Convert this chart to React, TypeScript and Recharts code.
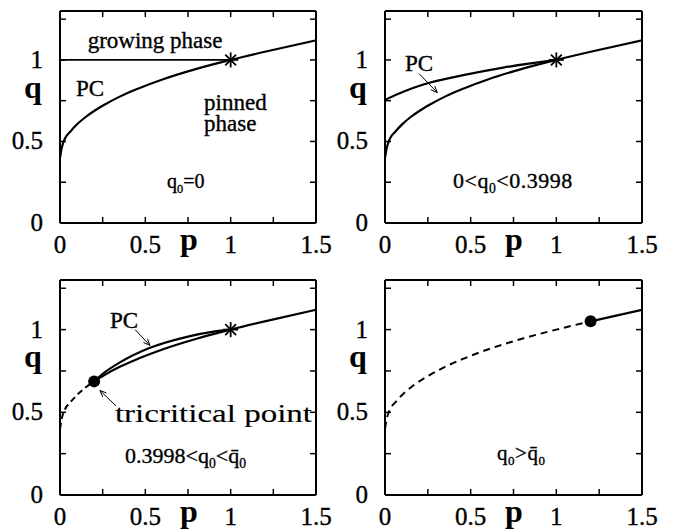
import React from 'react'
import { ComposedChart, Line, XAxis, YAxis, ReferenceDot, ReferenceLine } from 'recharts'

const FONT = 'Liberation Serif, Times New Roman, serif'

// phase boundary q(p), the same curve in all four panels
const boundaryP = [0, 0.01, 0.03, 0.06, 0.1, 0.15, 0.2, 0.26, 0.35, 0.46, 0.6, 0.8, 1.0, 1.2, 1.5]
const boundaryQ = [0.4, 0.46, 0.52, 0.56, 0.605, 0.65, 0.687, 0.725, 0.775, 0.825, 0.88, 0.945, 1.0, 1.05, 1.12]

// growing / PC border for q0 = 0
const growingP = [0, 1]
const growingQ = [1, 1]

// PC branch for 0 < q0 < 0.3998
const pcTopP = [0, 0.11, 0.22, 0.45, 0.69, 1.0]
const pcTopQ = [0.755, 0.807, 0.848, 0.905, 0.953, 1.0]

// PC branch for 0.3998 < q0 < q0bar
const pcLowP = [0.2, 0.26, 0.36, 0.52, 0.75, 0.9, 1.0]
const pcLowQ = [0.687, 0.74, 0.807, 0.887, 0.958, 0.988, 1.0]

// special points
const starPoint = { p: 1, q: 1 }
const tricriticalC = { p: 0.2, q: 0.687 }
const tricriticalD = { p: 1.2, q: 1.05 }

const pTicks = [0, 0.25, 0.5, 0.75, 1, 1.25, 1.5]
const pLabels = [0, 0.5, 1, 1.5]
const qTicks = [0, 0.25, 0.5, 0.75, 1, 1.25]
const qLabels = [0, 0.5, 1]

const toPoints = (ps: number[], qs: number[]) => ps.map((p, i) => ({ p, q: qs[i] }))

const boundary = toPoints(boundaryP, boundaryQ)
const growing = toPoints(growingP, growingQ)
const pcTop = toPoints(pcTopP, pcTopQ)
const pcLow = toPoints(pcLowP, pcLowQ)

// the scanned figure has heavy glyphs, a thin outline thickens them a bit
const ink = { fill: '#000', stroke: '#000', strokeWidth: 0.35 }

const LeftTick = (props: any) => {
  const { x, y, payload } = props
  const v = payload.value
  return (
    <g>
      <line x1={x} y1={y} x2={x + 6} y2={y} stroke="#000" strokeWidth={1.5} />
      {qLabels.includes(v) && (
        <text x={x - 17} y={y + 8} textAnchor="end" fontSize={25} fontFamily={FONT} {...ink}>
          {v}
        </text>
      )}
    </g>
  )
}

const RightTick = (props: any) => {
  const { x, y } = props
  return <line x1={x} y1={y} x2={x - 6} y2={y} stroke="#000" strokeWidth={1.5} />
}

const BottomTick = (props: any) => {
  const { x, y, payload } = props
  const v = payload.value
  return (
    <g>
      <line x1={x} y1={y} x2={x} y2={y - 6} stroke="#000" strokeWidth={1.5} />
      {pLabels.includes(v) && (
        <text x={x} y={y + 30} textAnchor="middle" fontSize={25} fontFamily={FONT} {...ink}>
          {v}
        </text>
      )}
    </g>
  )
}

const TopTick = (props: any) => {
  const { x, y } = props
  return <line x1={x} y1={y} x2={x} y2={y + 6} stroke="#000" strokeWidth={1.5} />
}

const qTitle = (props: any) => {
  const vb = props.viewBox
  return (
    <text x={vb.x + vb.width - 27} y={vb.y + 87} textAnchor="middle" fontSize={32} fontWeight="bold" fontFamily={FONT} fill="#000">
      q
    </text>
  )
}

const pTitle = (props: any) => {
  const vb = props.viewBox
  return (
    <text x={vb.x + 129} y={vb.y + 27} textAnchor="middle" fontSize={32} fontWeight="bold" fontFamily={FONT} fill="#000">
      p
    </text>
  )
}

const Star = (props: any) => {
  const { cx, cy } = props
  const r = 7.5
  const d = r * 0.72
  return (
    <g stroke="#000" strokeWidth={1.8}>
      <line x1={cx - r} y1={cy} x2={cx + r} y2={cy} />
      <line x1={cx} y1={cy - r} x2={cx} y2={cy + r} />
      <line x1={cx - d} y1={cy - d} x2={cx + d} y2={cy + d} />
      <line x1={cx - d} y1={cy + d} x2={cx + d} y2={cy - d} />
    </g>
  )
}

const Dot = (props: any) => <circle cx={props.cx} cy={props.cy} r={6} fill="#000" />

const Arrow = (props: any) => {
  const { x1, y1, x2, y2 } = props
  const a = Math.atan2(y2 - y1, x2 - x1)
  const h = 7
  const s = 0.4
  return (
    <g stroke="#000" strokeWidth={1} fill="none">
      <line x1={x1} y1={y1} x2={x2} y2={y2} />
      <line x1={x2} y1={y2} x2={x2 - h * Math.cos(a - s)} y2={y2 - h * Math.sin(a - s)} />
      <line x1={x2} y1={y2} x2={x2 - h * Math.cos(a + s)} y2={y2 - h * Math.sin(a + s)} />
    </g>
  )
}

// text pinned to a (p, q) position; stretch widens the glyphs horizontally
const note = (key: string, p: number, q: number, content: React.ReactNode, size = 23, extra: any = {}, stretch = 1) => (
  <ReferenceDot
    key={key}
    x={p}
    y={q}
    r={0}
    shape={(s: any) => (
      <text
        x={0}
        y={0}
        transform={`translate(${s.cx},${s.cy}) scale(${stretch},1)`}
        fontSize={size}
        fontFamily={FONT}
        {...ink}
        {...extra}
      >
        {content}
      </text>
    )}
  />
)

const arrow = (key: string, from: [number, number], to: [number, number]) => (
  <ReferenceLine
    key={key}
    segment={[
      { x: from[0], y: from[1] },
      { x: to[0], y: to[1] },
    ]}
    shape={Arrow}
  />
)

const curve = (key: string, data: any[], width = 2.2, dash?: string) => (
  <Line
    key={key}
    data={data}
    dataKey="q"
    type="monotone"
    stroke="#000"
    strokeWidth={width}
    strokeDasharray={dash}
    dot={false}
    activeDot={false}
    isAnimationActive={false}
  />
)

// subscript "0", then the text after it back on the baseline
const SUB = 5
const sub0 = (after?: string) => (
  <>
    <tspan fontSize="0.62em" dy={SUB}>0</tspan>
    {after && <tspan dy={-SUB}>{after}</tspan>}
  </>
)

interface PanelProps {
  left: number
  top: number
  width: number
  plotHeight: number
  children: React.ReactNode
}

const Panel: React.FC<PanelProps> = ({ left, top, width, plotHeight, children }) => (
  <div style={{ position: 'absolute', left, top }}>
    <ComposedChart width={width} height={plotHeight + 53} margin={{ top: 10, right: 23, bottom: 2, left: 10 }}>
      <XAxis
        dataKey="p"
        type="number"
        domain={[0, 1.5]}
        ticks={pTicks}
        interval={0}
        allowDataOverflow
        tickSize={0}
        tickMargin={0}
        tickLine={false}
        tick={BottomTick}
        height={40}
        axisLine={{ stroke: '#000', strokeWidth: 2 }}
        label={pTitle}
      />
      <XAxis
        xAxisId="top"
        orientation="top"
        dataKey="p"
        type="number"
        domain={[0, 1.5]}
        ticks={pTicks}
        interval={0}
        allowDataOverflow
        tickSize={0}
        tickMargin={0}
        tickLine={false}
        tick={TopTick}
        height={1}
        axisLine={{ stroke: '#000', strokeWidth: 2 }}
      />
      <YAxis
        type="number"
        domain={[0, 1.3]}
        ticks={qTicks}
        interval={0}
        allowDataOverflow
        tickSize={0}
        tickMargin={0}
        tickLine={false}
        tick={LeftTick}
        width={50}
        axisLine={{ stroke: '#000', strokeWidth: 2 }}
        label={qTitle}
      />
      <YAxis
        yAxisId="right"
        orientation="right"
        type="number"
        domain={[0, 1.3]}
        ticks={qTicks}
        interval={0}
        allowDataOverflow
        tickSize={0}
        tickMargin={0}
        tickLine={false}
        tick={RightTick}
        width={1}
        axisLine={{ stroke: '#000', strokeWidth: 2 }}
      />
      {children}
    </ComposedChart>
  </div>
)

export default function App() {
  return (
    <div
      style={{
        position: 'absolute',
        left: 0,
        top: 0,
        width: 679,
        height: 529,
        background: '#fff',
        fontFamily: FONT,
      }}
    >
      <Panel left={0} top={0} width={340} plotHeight={212}>
        {curve('growing', growing, 1.6)}
        {curve('boundary', boundary)}
        <ReferenceDot x={starPoint.p} y={starPoint.q} r={0} shape={Star} />
        {note('grow', 0.557, 1.076, 'growing phase', 23, { textAnchor: 'middle' })}
        {note('pc', 0.094, 0.78, 'PC')}
        {note('pinned', 0.844, 0.69, 'pinned')}
        {note('phase', 0.844, 0.565, 'phase')}
        {note('q0', 0.627, 0.213, <>q{sub0('=0')}</>, 20)}
      </Panel>

      <Panel left={325} top={0} width={341} plotHeight={212}>
        {curve('pcTop', pcTop)}
        {curve('boundary', boundary)}
        <ReferenceDot x={starPoint.p} y={starPoint.q} r={0} shape={Star} />
        {note('pc', 0.117, 0.933, 'PC')}
        {arrow('pcArrow', [0.2, 0.915], [0.305, 0.8])}
        {note('q0', 0.397, 0.213, <>0&lt;q{sub0('<0.3998')}</>, 22, { letterSpacing: 0.5 })}
      </Panel>

      <Panel left={0} top={269} width={340} plotHeight={215}>
        {curve('dash', boundary.filter((d) => d.p <= tricriticalC.p), 2, '6 4')}
        {curve('solid', boundary.filter((d) => d.p >= tricriticalC.p))}
        {curve('pcLow', pcLow)}
        <ReferenceDot x={starPoint.p} y={starPoint.q} r={0} shape={Star} />
        <ReferenceDot x={tricriticalC.p} y={tricriticalC.q} r={0} shape={Dot} />
        {note('pc', 0.293, 1.012, 'PC')}
        {arrow('pcArrow', [0.44, 1.0], [0.527, 0.905])}
        {arrow('triArrow', [0.328, 0.539], [0.234, 0.632])}
        {note('tri', 0.322, 0.444, 'tricritical point', 26, { strokeWidth: 0.15 }, 1.27)}
        {note('q0', 0.381, 0.194, <>0.3998&lt;q{sub0('<q\u0304')}{sub0()}</>, 22)}
      </Panel>

      <Panel left={325} top={269} width={341} plotHeight={215}>
        {curve('dash', boundary.filter((d) => d.p <= tricriticalD.p), 2, '7 5')}
        {curve('solid', boundary.filter((d) => d.p >= tricriticalD.p))}
        <ReferenceDot x={tricriticalD.p} y={tricriticalD.q} r={0} shape={Dot} />
        {note('q0', 0.654, 0.212, <>q{sub0('>q\u0304')}{sub0()}</>, 21, { letterSpacing: 0.5 })}
      </Panel>
    </div>
  )
}
